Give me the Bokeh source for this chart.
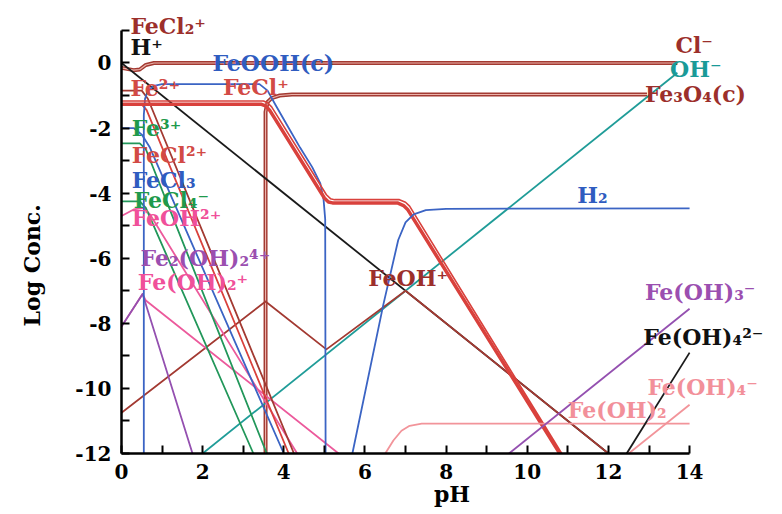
from bokeh.plotting import figure
from bokeh.models import Range1d, FixedTicker, Label
from bokeh.embed import file_html
from bokeh.resources import INLINE

# ---------------- data (pH, log concentration) ----------------
x_ticks = [0, 2, 4, 6, 8, 10, 12, 14]
x_minor = [1, 3, 5, 7, 9, 11, 13]
y_ticks = [-12, -10, -8, -6, -4, -2, 0]
y_tick_labels = ["-12", "-10", "-8", "-6", "-4", "-2", "0"]
y_minor = [-11, -9, -7, -5, -3, -1, 1]

cl_ph = [0, 0.3, 0.45, 0.6, 0.8, 13.7]
cl_c = [-0.15, -0.22, -0.2, -0.06, 0.0, 0.0]

h_ph = [0, 12]
h_c = [0, -12]

oh_ph = [2, 13.7]
oh_c = [-12, -0.3]

fe3o4_ph = [3.55, 3.55, 3.6, 3.7, 3.9, 4.2, 12.95]
fe3o4_c = [-12, -1.5, -1.2, -1.08, -1.0, -0.97, -0.97]

feooh_ph = [0.55, 0.55, 0.58, 0.65, 0.8, 1.0, 3.4, 3.6, 3.8, 4.1, 4.4, 4.7, 4.9, 4.98, 5.02, 5.03]
feooh_c = [-12, -1.6, -1.1, -0.85, -0.7, -0.65, -0.65, -0.85, -1.3, -1.95, -2.6, -3.2, -3.7, -4.2, -4.8, -12]

fe2_ph = [0, 3.45, 3.55, 3.65, 5.0, 5.1, 5.2, 6.8, 6.95, 7.05, 10.8]
fe2_c = [-1.27, -1.27, -1.32, -1.45, -4.15, -4.27, -4.3, -4.3, -4.38, -4.5, -12]

fecl_ph = [0, 3.5, 3.6, 3.7, 5.05, 5.15, 5.25, 6.85, 7.0, 7.1, 10.85]
fecl_c = [-1.17, -1.17, -1.22, -1.35, -4.05, -4.17, -4.2, -4.2, -4.28, -4.4, -12]

fecl2p_ph = [0, 0.5, 0.65, 4.25]
fecl2p_c = [-0.85, -0.85, -1.1, -12]

fecl2pp_ph = [0, 0.5, 0.62, 4.12]
fecl2pp_c = [-1.27, -1.27, -1.45, -12]

fecl3_ph = [0, 0.3, 0.5, 0.7, 4.0]
fecl3_c = [-2.0, -2.0, -2.2, -2.6, -12]

fe3_ph = [0, 0.45, 0.6, 3.58]
fe3_c = [-2.47, -2.47, -2.65, -12]

fecl4_ph = [0, 0.45, 0.6, 3.25]
fecl4_c = [-4.25, -4.25, -4.45, -12]

feoh2_ph = [0, 0.3, 0.55, 0.7, 4.33]
feoh2_c = [-4.7, -4.5, -4.45, -4.65, -12]

fe2oh2_ph = [0, 0.52, 1.75]
fe2oh2_c = [-8.1, -7.1, -12]

feoh2p_ph = [0, 0.52, 0.6, 5.35]
feoh2p_c = [-8.1, -7.1, -7.3, -12]

feohp_ph = [0, 3.55, 5.05, 7.0, 12.0]
feohp_c = [-10.75, -7.33, -8.8, -7.0, -12]

h2_ph = [5.69, 6.45, 6.82, 7.0, 7.2, 7.5, 8.0, 14]
h2_c = [-12, -7.44, -5.44, -4.9, -4.65, -4.52, -4.48, -4.47]

feoh2s_ph = [6.5, 6.7, 6.9, 7.1, 7.4, 14]
feoh2s_c = [-12, -11.6, -11.3, -11.15, -11.08, -11.08]

feoh3m_ph = [9.55, 14]
feoh3m_c = [-12, -7.55]

feoh4mm_ph = [12.45, 14]
feoh4mm_c = [-12, -8.9]

feoh4m_ph = [12.5, 14]
feoh4m_c = [-12, -10.5]

# species labels: text, pH, logC, colour key
label_text = ["FeCl\u2082\u207a", "H\u207a", "FeOOH(c)", "Fe\u00b2\u207a", "FeCl\u207a",
              "Fe\u00b3\u207a", "FeCl\u00b2\u207a", "FeCl\u2083", "FeCl\u2084\u207b", "FeOH\u00b2\u207a",
              "Fe\u2082(OH)\u2082\u2074\u207a", "Fe(OH)\u2082\u207a", "FeOH\u207a", "Cl\u207b", "OH\u207b",
              "Fe\u2083O\u2084(c)", "H\u2082", "Fe(OH)\u2083\u207b", "Fe(OH)\u2084\u00b2\u207b",
              "Fe(OH)\u2084\u207b", "Fe(OH)\u2082"]
label_x = [0.22, 0.22, 2.24, 0.22, 2.5, 0.25, 0.25, 0.25, 0.3, 0.25,
           0.47, 0.4, 6.08, 13.65, 13.52, 12.9, 11.23, 12.9, 12.86, 12.96, 11.0]
label_y = [1.15, 0.5, 0.0, -0.78, -0.75, -2.0, -2.84, -3.6, -4.2, -4.75,
           -6.0, -6.73, -6.6, 0.54, -0.17, -0.94, -4.06, -7.04, -8.42, -9.95, -10.66]
label_col = ["brown", "black", "blue", "red", "red", "green", "red", "blue", "green", "pink",
             "purple", "pink", "brown", "brown", "teal", "brown", "blue", "purple", "black",
             "salmon", "salmon"]

# ---------------- styling ----------------
COL = {
    "brown": "#a33a32",
    "red": "#d9413c",
    "blue": "#3b64c4",
    "green": "#22975a",
    "pink": "#ec5a9c",
    "purple": "#9450b0",
    "teal": "#1f9c98",
    "salmon": "#f2949a",
    "black": "#1a1a1a",
}
TXT = {
    "brown": "#9c2f2b",
    "red": "#d24a45",
    "blue": "#2f5cc0",
    "green": "#1f9a4c",
    "pink": "#f0509a",
    "purple": "#9b4fb0",
    "teal": "#1a9a98",
    "salmon": "#f2909a",
    "black": "#111111",
}
FONT = "DejaVu Serif"

# frame spans past the axes so that labels beyond pH 14 / above logC 1 are visible
p = figure(width=782, height=514, output_backend="svg", toolbar_location=None,
           x_range=Range1d(0, 16.29), y_range=Range1d(-12, 1.92),
           min_border_left=121, min_border_right=0, min_border_top=0, min_border_bottom=61)
p.outline_line_color = None
p.grid.visible = False

def ln(x, y, c, w=1.6):
    p.line(x, y, line_color=COL[c], line_width=w, line_join="round")

# double-stroke lines (two species drawn close together)
ln(cl_ph, cl_c, "brown", 4)
p.line(cl_ph, cl_c, line_color="#ebb3ab", line_width=1.1)
ln(fe3o4_ph, fe3o4_c, "brown", 4)
p.line(fe3o4_ph, fe3o4_c, line_color="#ebb3ab", line_width=1.1)

ln(h_ph, h_c, "black", 1.8)
ln(oh_ph, oh_c, "teal", 1.8)
ln(feohp_ph, feohp_c, "brown", 1.8)
ln(feoh2p_ph, feoh2p_c, "pink", 1.8)
ln(fe2oh2_ph, fe2oh2_c, "purple", 1.8)
ln(feoh2_ph, feoh2_c, "pink", 1.8)
ln(fecl4_ph, fecl4_c, "green", 1.8)
ln(fe3_ph, fe3_c, "green", 1.8)
ln(fecl3_ph, fecl3_c, "blue", 1.8)
ln(fecl2pp_ph, fecl2pp_c, "red", 1.8)
ln(fecl2p_ph, fecl2p_c, "brown", 1.8)
ln(feooh_ph, feooh_c, "blue", 1.8)
ln(fecl_ph, fecl_c, "red", 1.6)
ln(fe2_ph, fe2_c, "red", 3.5)
ln(h2_ph, h2_c, "blue", 1.8)
ln(feoh2s_ph, feoh2s_c, "salmon", 1.8)
ln(feoh3m_ph, feoh3m_c, "purple", 1.8)
ln(feoh4mm_ph, feoh4mm_c, "black", 1.8)
ln(feoh4m_ph, feoh4m_c, "salmon", 1.8)

# axes
p.xaxis.ticker = FixedTicker(ticks=x_ticks, minor_ticks=x_minor)
p.yaxis.ticker = FixedTicker(ticks=y_ticks, minor_ticks=y_minor)
p.yaxis.major_label_overrides = dict(zip(y_ticks, y_tick_labels))
p.xaxis.bounds = (0, 14)
p.yaxis.bounds = (-12, 1)
for ax in (p.xaxis[0], p.yaxis[0]):
    ax.axis_line_width = 2.5
    ax.axis_line_color = "black"
    ax.major_tick_in = 8
    ax.major_tick_out = 0
    ax.minor_tick_in = 8
    ax.minor_tick_out = 0
    ax.major_tick_line_width = 2
    ax.minor_tick_line_width = 2
    ax.major_tick_line_color = "black"
    ax.minor_tick_line_color = "black"
    ax.major_label_text_font = FONT
    ax.major_label_text_font_style = "bold"
    ax.major_label_text_font_size = "20px"
    ax.major_label_text_color = "black"
    ax.axis_label_text_font = FONT
    ax.axis_label_text_font_style = "bold"
    ax.axis_label_text_font_size = "22px"
    ax.axis_label_text_color = "black"

p.yaxis.major_label_standoff = 10
# trailing no-break spaces move the rotated title down to the centre of the drawn axis
p.yaxis.axis_label = "Log Conc." + "\u00a0" * 10
p.yaxis.axis_label_standoff = 27
p.xaxis.major_label_standoff = 10
p.xaxis.axis_label = "pH"
p.xaxis.axis_label_standoff = -1

# species labels
for t, x, y, c in zip(label_text, label_x, label_y, label_col):
    p.add_layout(Label(x=x, y=y, text=t, text_font=FONT, text_font_style="bold",
                       text_font_size="22px", text_color=TXT[c],
                       text_align="left", text_baseline="middle"))

open("out.html", "w").write(file_html(p, INLINE))
